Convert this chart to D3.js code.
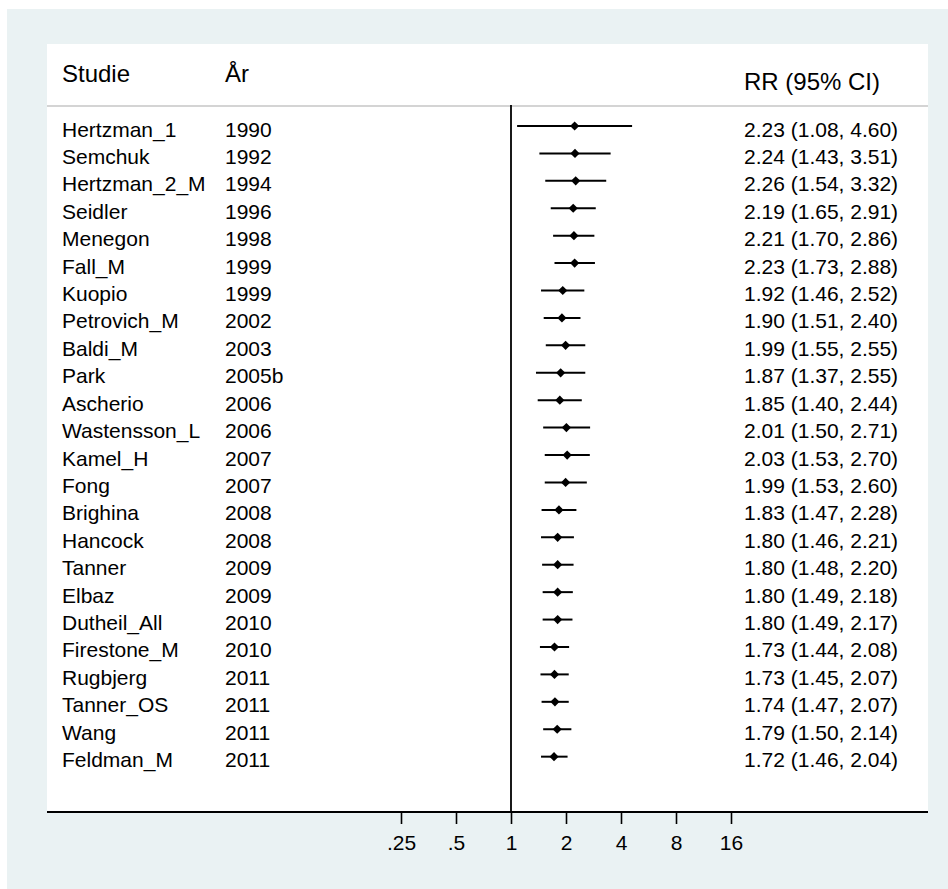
<!DOCTYPE html>
<html>
<head>
<meta charset="utf-8">
<script src="https://cdn.jsdelivr.net/npm/d3@7"></script>
<style>
  html, body { margin: 0; padding: 0; background: #fff; }
  svg { display: block; font-family: "Liberation Sans", Arial, Helvetica, sans-serif; }
</style>
</head>
<body>
<svg id="chart" width="948" height="889"></svg>
<script>
// Study labels, publication years and risk ratios with 95% confidence limits
const studies = ["Hertzman_1", "Semchuk", "Hertzman_2_M", "Seidler", "Menegon", "Fall_M",
  "Kuopio", "Petrovich_M", "Baldi_M", "Park", "Ascherio", "Wastensson_L", "Kamel_H", "Fong",
  "Brighina", "Hancock", "Tanner", "Elbaz", "Dutheil_All", "Firestone_M", "Rugbjerg",
  "Tanner_OS", "Wang", "Feldman_M"];
const years = ["1990", "1992", "1994", "1996", "1998", "1999", "1999", "2002", "2003", "2005b",
  "2006", "2006", "2007", "2007", "2008", "2008", "2009", "2009", "2010", "2010", "2011",
  "2011", "2011", "2011"];
const rr = [2.23, 2.24, 2.26, 2.19, 2.21, 2.23, 1.92, 1.90, 1.99, 1.87, 1.85, 2.01, 2.03, 1.99,
  1.83, 1.80, 1.80, 1.80, 1.80, 1.73, 1.73, 1.74, 1.79, 1.72];
const lower = [1.08, 1.43, 1.54, 1.65, 1.70, 1.73, 1.46, 1.51, 1.55, 1.37, 1.40, 1.50, 1.53, 1.53,
  1.47, 1.46, 1.48, 1.49, 1.49, 1.44, 1.45, 1.47, 1.50, 1.46];
const upper = [4.60, 3.51, 3.32, 2.91, 2.86, 2.88, 2.52, 2.40, 2.55, 2.55, 2.44, 2.71, 2.70, 2.60,
  2.28, 2.21, 2.20, 2.18, 2.17, 2.08, 2.07, 2.07, 2.14, 2.04];
const tickValues = [0.25, 0.5, 1, 2, 4, 8, 16];
const tickLabels = [".25", ".5", "1", "2", "4", "8", "16"];
const headers = { study: "Studie", year: "År", estimate: "RR (95% CI)" };

const rows = studies.map((s, i) => ({ study: s, year: years[i], rr: rr[i], lo: lower[i], hi: upper[i] }));

const svg = d3.select("#chart");
const W = 948, H = 889;

// Graph region and plot region
svg.append("rect").attr("x", 0).attr("y", 0).attr("width", W).attr("height", H).attr("fill", "#fff");
svg.append("rect").attr("x", 7).attr("y", 9).attr("width", W - 7).attr("height", H - 9).attr("fill", "#eaf2f3");
const plot = { left: 47, right: 928, top: 44, bottom: 812 };
svg.append("rect").attr("x", plot.left).attr("y", plot.top)
  .attr("width", plot.right - plot.left).attr("height", plot.bottom - plot.top).attr("fill", "#fff");

// Scales
const x = d3.scaleLog().base(2).domain([0.25, 16]).range([401, 731]);
const y = d3.scaleLinear().domain([0, rows.length - 1]).range([126, 126 + 27.42 * (rows.length - 1)]);

const colStudy = 62, colYear = 225, colEst = 744;

// Column headers
const hdr = svg.append("g").attr("font-size", 24).attr("fill", "#000");
hdr.append("text").attr("x", colStudy).attr("y", 82).text(headers.study);
hdr.append("text").attr("x", colYear).attr("y", 82).text(headers.year);
hdr.append("text").attr("x", colEst).attr("y", 90).text(headers.estimate);

// Header rule
svg.append("line").attr("x1", plot.left).attr("x2", plot.right).attr("y1", 106).attr("y2", 106)
  .attr("stroke", "#c6c6c6").attr("stroke-width", 1.5);

// Null line at RR = 1
svg.append("line").attr("x1", x(1)).attr("x2", x(1)).attr("y1", 105).attr("y2", plot.bottom)
  .attr("stroke", "#000").attr("stroke-width", 1.8);

// Row text
const fmt = d3.format(".2f");
const rowG = svg.append("g").attr("font-size", 21).attr("fill", "#000");
rowG.selectAll("text.study").data(rows).join("text").attr("class", "study")
  .attr("x", colStudy).attr("y", (d, i) => y(i) + 10.5).text(d => d.study);
rowG.selectAll("text.year").data(rows).join("text").attr("class", "year")
  .attr("x", colYear).attr("y", (d, i) => y(i) + 10.5).text(d => d.year);
rowG.selectAll("text.est").data(rows).join("text").attr("class", "est")
  .attr("x", colEst).attr("y", (d, i) => y(i) + 10.5)
  .text(d => `${fmt(d.rr)} (${fmt(d.lo)}, ${fmt(d.hi)})`);

// Confidence intervals and point estimates
const marks = svg.append("g");
marks.selectAll("line.ci").data(rows).join("line").attr("class", "ci")
  .attr("x1", d => x(d.lo)).attr("x2", d => x(d.hi))
  .attr("y1", (d, i) => y(i)).attr("y2", (d, i) => y(i))
  .attr("stroke", "#000").attr("stroke-width", 2);
const dr = 4.6;
marks.selectAll("path.pt").data(rows).join("path").attr("class", "pt")
  .attr("d", (d, i) => {
    const cx = x(d.rr), cy = y(i);
    return `M${cx},${cy - dr}L${cx + dr},${cy}L${cx},${cy + dr}L${cx - dr},${cy}Z`;
  })
  .attr("fill", "#000");

// X axis
svg.append("line").attr("x1", plot.left).attr("x2", plot.right).attr("y1", plot.bottom).attr("y2", plot.bottom)
  .attr("stroke", "#000").attr("stroke-width", 2);
const axis = d3.axisBottom(x).tickValues(tickValues).tickSize(12)
  .tickFormat((d, i) => tickLabels[i]);
const ax = svg.append("g").attr("transform", `translate(0,${plot.bottom})`).call(axis);
ax.select(".domain").remove();
ax.selectAll(".tick line").attr("stroke", "#000").attr("stroke-width", 1.6);
ax.selectAll(".tick text").attr("font-size", 21).attr("fill", "#000")
  .attr("font-family", "Liberation Sans, Arial, sans-serif")
  .attr("y", 38).attr("dy", 0);
</script>
</body>
</html>
